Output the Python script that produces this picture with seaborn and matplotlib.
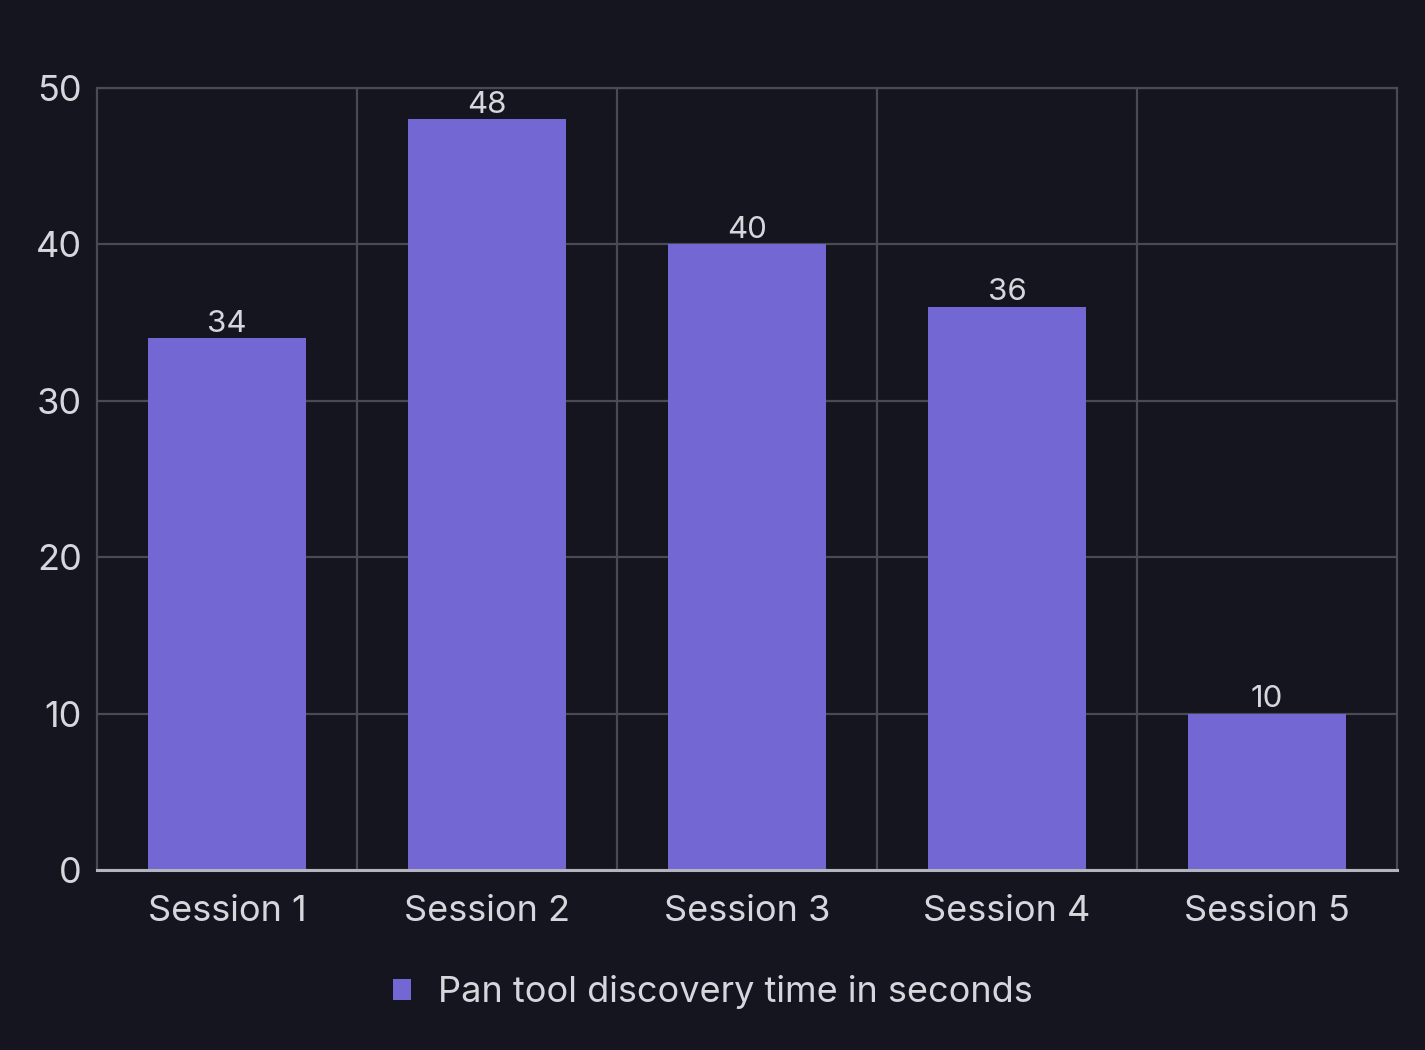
import matplotlib
matplotlib.use("Agg")
import matplotlib.pyplot as plt
import pandas as pd
import seaborn as sns

sessions = ["Session 1", "Session 2", "Session 3", "Session 4", "Session 5"]
discovery_seconds = [34, 48, 40, 36, 10]
series_name = "Pan tool discovery time in seconds"

BG = "#14151e"
BAR = "#7367d3"
GRID = "#4a4a57"
TEXT = "#d6d6dc"

sns.set_theme(style="dark")
plt.rcParams["font.family"] = ["Inter", "DejaVu Sans"]

df = pd.DataFrame({"session": sessions, "seconds": discovery_seconds})

fig = plt.figure(figsize=(14.25, 10.5), dpi=100, facecolor=BG)
ax = fig.add_axes([97 / 1425, 1 - 870 / 1050, 1300 / 1425, 782 / 1050])
ax.set_facecolor(BG)

sns.barplot(data=df, x="session", y="seconds", color=BAR, width=0.61,
            saturation=1, linewidth=0, edgecolor=BAR, label=series_name,
            ax=ax, zorder=2)

for container in ax.containers:
    ax.bar_label(container, padding=0.5, fontsize=22.5, color=TEXT)

ax.set_xlim(-0.5, len(sessions) - 0.5)
ax.set_ylim(0, 50)
ax.set_yticks(range(0, 51, 10))
ax.set_xticks([i + 0.5 for i in range(len(sessions) - 1)], minor=True)
ax.grid(False)
ax.grid(True, which="major", axis="y", color=GRID, linewidth=1.6, zorder=0)
ax.grid(True, which="minor", axis="x", color=GRID, linewidth=1.6, zorder=0)
ax.set_axisbelow(True)

ax.tick_params(axis="both", which="both", length=0, colors=TEXT, labelsize=26)
ax.tick_params(axis="y", pad=11)
ax.tick_params(axis="x", pad=18)
ax.set_xlabel("")
ax.set_ylabel("")

for side in ["left", "top", "right"]:
    ax.spines[side].set_color(GRID)
    ax.spines[side].set_linewidth(1.6)
    ax.spines[side].set_visible(True)
ax.spines["bottom"].set_color("#b4b4bc")
ax.spines["bottom"].set_linewidth(2.2)
ax.spines["bottom"].set_visible(True)

ax.legend(loc="center", bbox_to_anchor=(0.5, 0.055), bbox_transform=fig.transFigure,
          frameon=False, fontsize=26, labelcolor=TEXT, handlelength=0.5,
          handleheight=0.5, handletextpad=0.75)

fig.savefig("out.png", dpi=100, facecolor=BG)
